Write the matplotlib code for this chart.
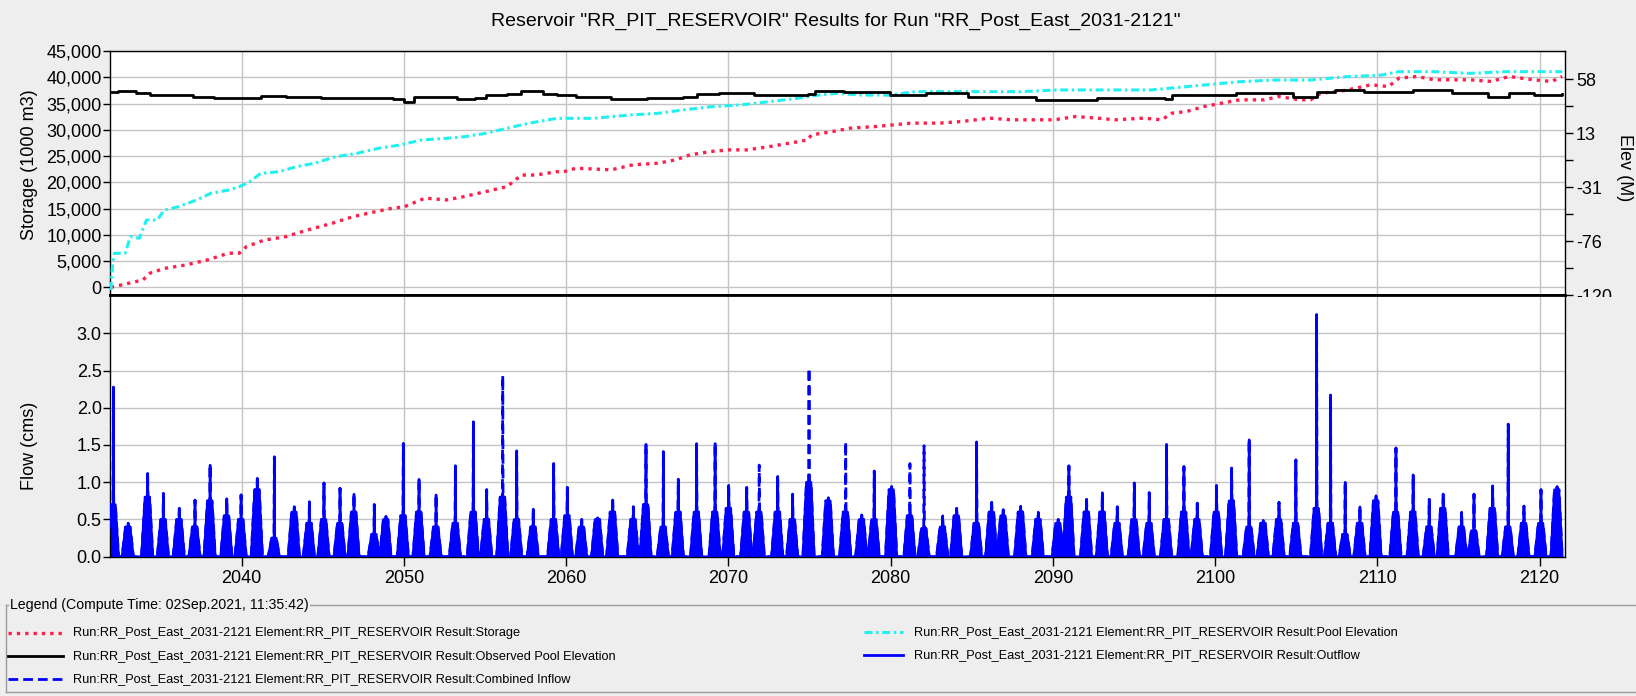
import numpy as np
import matplotlib
matplotlib.use("Agg")
import matplotlib.pyplot as plt
from matplotlib.lines import Line2D
from matplotlib.patches import Rectangle

plt.rcParams['font.family'] = ['Liberation Sans', 'DejaVu Sans']

W, H = 1636, 696
BG = '#eeeeee'

# ---- top panel: storage (1000 m3)
stor_t = [2031.93, 2032.37, 2033.91, 2034.35, 2035.23, 2036.55, 2037.87, 2039.19, 2039.85, 2040.29,
          2041.39, 2042.71, 2044.03, 2045.57, 2046.90, 2048.22, 2049.32, 2049.98, 2051.30, 2052.62,
          2053.72, 2055.04, 2056.36, 2057.24, 2058.12, 2059.44, 2059.71, 2060.59, 2062.79, 2064.11,
          2065.65, 2066.75, 2067.63, 2068.95, 2070.05, 2071.15, 2072.48, 2073.80, 2074.90, 2075.11,
          2076.44, 2077.54, 2079.08, 2080.18, 2081.28, 2083.04, 2084.36, 2086.12, 2087.44, 2088.98,
          2090.09, 2091.41, 2092.72, 2093.86, 2095.60, 2096.70, 2097.35, 2098.23, 2099.32, 2100.41,
          2101.51, 2103.04, 2103.91, 2105.22, 2105.88, 2106.53, 2107.63, 2108.72, 2109.60, 2110.69,
          2111.34, 2112.44, 2113.53, 2115.72, 2117.02, 2118.12, 2119.65, 2120.74, 2121.40]
stor_v = [0, 300, 1400, 2700, 3600, 4250, 5200, 6500, 6500, 7750,
          9000, 9650, 10900, 12200, 13500, 14400, 15100, 15300, 17000, 16650,
          17300, 18250, 19200, 21400, 21400, 22050, 21900, 22700, 22400, 23350,
          23650, 24300, 25250, 25900, 26200, 26200, 26800, 27500, 28100, 29050,
          29700, 30350, 30650, 30970, 31300, 31300, 31600, 32250, 31930, 31930,
          31930, 32560, 32250, 31930, 32250, 31930, 33200, 33500, 34470, 35100,
          35740, 35740, 36370, 35740, 35740, 37020, 37330, 37980, 38600, 38280,
          39880, 40190, 39560, 39560, 39240, 40190, 39560, 39240, 40190]

# pool elevation (M), right axis
pool_t = [2031.93, 2032.04, 2032.15, 2032.81, 2033.14, 2033.69, 2034.13, 2034.79, 2035.23, 2036.11,
          2037.21, 2038.09, 2039.19, 2039.85, 2040.51, 2041.17, 2042.27, 2043.37, 2044.47, 2045.79,
          2047.11, 2048.44, 2049.76, 2051.08, 2052.62, 2053.72, 2055.04, 2056.36, 2057.68, 2059.44,
          2061.69, 2063.89, 2065.65, 2067.19, 2068.95, 2070.71, 2072.48, 2074.23, 2075.56, 2076.66,
          2078.20, 2079.96, 2081.50, 2083.70, 2085.90, 2088.10, 2090.31, 2092.72, 2093.86, 2096.04,
          2098.23, 2099.32, 2101.51, 2103.69, 2105.88, 2108.07, 2110.25, 2111.34, 2113.53, 2115.72,
          2117.90, 2120.09, 2121.40]
pool_v = [-115.9, -93.8, -85.6, -85.6, -71.9, -73.2, -58.1, -58.1, -49.9, -47.1,
          -41.6, -36.1, -33.4, -30.6, -26.5, -19.6, -18.3, -14.1, -11.3, -5.9,
          -3.1, 1.1, 3.8, 7.9, 9.3, 10.6, 13.4, 17.6, 21.7, 25.8,
          25.8, 28.5, 29.9, 32.7, 35.4, 36.8, 39.5, 42.3, 45.0, 46.4,
          45.0, 45.0, 47.8, 47.8, 47.8, 47.8, 49.2, 49.2, 49.2, 49.2,
          51.9, 53.3, 56.0, 57.4, 57.4, 60.1, 61.5, 64.3, 64.3, 62.9,
          64.3, 64.3, 64.3]

# observed pool elevation (M), right axis
obs_t = [2031.93, 2032.37, 2033.47, 2034.35, 2035.67, 2036.99, 2038.31, 2040.07, 2041.17, 2042.71,
         2044.91, 2047.11, 2049.32, 2049.98, 2050.64, 2051.52, 2053.28, 2054.38, 2055.04, 2056.36,
         2057.24, 2058.56, 2059.44, 2060.59, 2062.79, 2064.99, 2067.19, 2068.07, 2069.39, 2071.60,
         2074.90, 2075.34, 2077.10, 2079.96, 2082.16, 2084.80, 2087.00, 2088.98, 2090.75, 2092.72,
         2093.86, 2096.92, 2097.35, 2100.41, 2101.29, 2104.79, 2106.31, 2107.41, 2109.16, 2112.21,
         2114.62, 2116.81, 2117.90, 2118.12, 2119.65, 2121.40]
obs_v = [47.8, 48.6, 46.4, 45.0, 45.0, 43.1, 42.3, 42.3, 44.5, 43.1,
         42.3, 42.8, 41.5, 39.5, 43.6, 43.6, 41.5, 42.3, 45.0, 45.6,
         48.6, 45.9, 45.0, 43.6, 41.7, 42.3, 43.6, 45.9, 46.4, 45.0,
         45.6, 48.6, 47.3, 45.0, 46.4, 43.1, 43.6, 40.9, 40.9, 42.3,
         42.3, 41.7, 45.0, 45.0, 46.9, 43.6, 47.8, 49.2, 47.8, 49.2,
         46.4, 43.6, 43.6, 46.9, 45.0, 45.6]

# ---- bottom panel: one flow season per year (time of peak, outflow peak, inflow peak, bulk level), cms
flow_t = [2032.09, 2033.00, 2034.20, 2035.17, 2036.15, 2037.12, 2038.05, 2039.08, 2039.96, 2040.96,
          2042.01, 2043.24, 2044.17, 2045.07, 2046.06, 2046.92, 2048.17, 2048.89, 2049.96, 2050.93,
          2051.98, 2053.17, 2054.28, 2055.10, 2056.09, 2056.95, 2057.97, 2059.23, 2060.07, 2060.96,
          2061.94, 2062.87, 2064.14, 2064.92, 2065.99, 2066.91, 2068.04, 2069.18, 2070.02, 2071.13,
          2071.90, 2073.04, 2073.96, 2074.97, 2076.16, 2077.23, 2078.22, 2078.99, 2080.06, 2081.19,
          2082.06, 2083.21, 2084.07, 2085.30, 2086.23, 2086.94, 2088.02, 2089.10, 2090.33, 2090.99,
          2092.08, 2093.05, 2093.97, 2095.02, 2095.94, 2097.01, 2098.08, 2098.90, 2100.09, 2101.02,
          2102.10, 2102.97, 2103.94, 2104.98, 2106.26, 2107.12, 2108.02, 2108.93, 2109.92, 2111.15,
          2112.21, 2113.20, 2114.06, 2115.20, 2115.96, 2117.11, 2118.07, 2119.04, 2120.09, 2121.08]
out_peak = [2.28, 0.45, 1.12, 0.85, 0.65, 0.76, 1.23, 0.78, 0.83, 1.05,
            1.34, 0.67, 0.74, 0.99, 0.92, 0.84, 0.70, 0.54, 1.52, 1.04,
            0.83, 1.22, 1.81, 0.90, 0.85, 1.42, 0.64, 1.25, 0.93, 0.50,
            0.52, 0.76, 0.67, 1.51, 1.41, 1.04, 1.52, 1.52, 0.96, 0.93,
            0.70, 1.08, 0.84, 1.10, 0.79, 0.69, 0.56, 1.15, 0.94, 0.60,
            0.40, 0.55, 0.65, 1.54, 0.73, 0.63, 0.68, 0.60, 0.50, 1.22,
            0.77, 0.86, 0.67, 0.99, 0.86, 1.51, 1.21, 0.72, 0.96, 1.19,
            1.57, 0.49, 0.73, 1.30, 3.25, 2.17, 1.00, 0.67, 0.82, 1.46,
            1.10, 0.77, 0.84, 0.60, 0.84, 0.95, 1.78, 0.68, 0.90, 0.94]
in_peak = [2.28, 0.45, 1.12, 0.85, 0.65, 0.76, 1.23, 0.78, 0.83, 1.05,
           1.34, 0.67, 0.74, 0.99, 0.92, 0.84, 0.70, 0.54, 1.52, 1.04,
           0.83, 1.22, 1.81, 0.90, 2.43, 1.42, 0.64, 1.25, 0.93, 0.50,
           0.52, 0.76, 0.67, 1.51, 1.41, 1.04, 1.52, 1.52, 0.96, 0.93,
           1.23, 1.08, 0.84, 2.53, 0.79, 1.54, 0.56, 1.15, 0.94, 1.25,
           1.49, 0.55, 0.65, 1.54, 0.73, 0.63, 0.68, 0.60, 0.50, 1.22,
           0.77, 0.86, 0.67, 0.99, 0.86, 1.51, 1.21, 0.72, 0.96, 1.19,
           1.57, 0.49, 0.73, 1.30, 3.25, 2.17, 1.00, 0.67, 0.82, 1.46,
           1.10, 0.77, 0.84, 0.60, 0.84, 0.95, 1.78, 0.68, 0.90, 0.94]
flow_body = [0.70, 0.40, 0.80, 0.50, 0.50, 0.40, 0.75, 0.55, 0.50, 0.90,
             0.25, 0.60, 0.45, 0.50, 0.45, 0.60, 0.30, 0.50, 0.55, 0.60,
             0.40, 0.45, 0.60, 0.50, 0.80, 0.50, 0.40, 0.50, 0.55, 0.40,
             0.50, 0.60, 0.50, 0.70, 0.40, 0.60, 0.60, 0.60, 0.65, 0.60,
             0.60, 0.60, 0.50, 1.00, 0.75, 0.60, 0.50, 0.50, 0.90, 0.55,
             0.38, 0.40, 0.55, 0.45, 0.60, 0.55, 0.60, 0.50, 0.45, 0.80,
             0.60, 0.60, 0.45, 0.50, 0.45, 0.50, 0.60, 0.50, 0.60, 0.75,
             0.40, 0.45, 0.50, 0.45, 0.65, 0.45, 0.30, 0.45, 0.75, 0.60,
             0.60, 0.40, 0.65, 0.40, 0.35, 0.65, 0.40, 0.45, 0.45, 0.90]

storage_ticks = [0, 5000, 10000, 15000, 20000, 25000, 30000, 35000, 40000, 45000]
elev_ticks = [-120, -75.5, -31, 13.5, 58]
elev_labels = ["-120", "-76", "-31", "13", "58"]
flow_ticks = [0.0, 0.5, 1.0, 1.5, 2.0, 2.5, 3.0]
year_ticks = [2040, 2050, 2060, 2070, 2080, 2090, 2100, 2110, 2120]

title = 'Reservoir "RR_PIT_RESERVOIR" Results for Run "RR_Post_East_2031-2121"'
run = "Run:RR_Post_East_2031-2121 Element:RR_PIT_RESERVOIR Result:"

RED = '#ff1f4b'
CYAN = '#22f0f0'
BLUE = '#0000ff'


def season_series(t, peak, body):
    # each season: rise to the bulk level, a single peak, hold, then fall off
    xs, ys = [], []
    for ti, p, b in zip(t, peak, body):
        xs += [ti - 0.38, ti - 0.16, ti - 0.02, ti, ti + 0.02, ti + 0.12, ti + 0.32]
        ys += [0, b, b, p, b, b, 0]
    return np.array(xs), np.array(ys)


fig = plt.figure(figsize=(W / 100, H / 100), dpi=100, facecolor=BG)
L, R = 110 / W, 1565 / W
ax1 = fig.add_axes([L, 1 - 295 / H, R - L, 244 / H])
ax2 = fig.add_axes([L, 1 - 557 / H, R - L, 262 / H], sharex=ax1)
ax1r = ax1.twinx()

# top panel
ax1.plot(stor_t, stor_v, color=RED, lw=2.4, ls=(0, (1.0, 1.5)), zorder=3)
ax1r.plot(pool_t, pool_v, color=CYAN, lw=2.2, ls=(0, (2.6, 1.2, 0.8, 1.2)), zorder=3)
ax1r.plot(obs_t, obs_v, color='black', lw=2.0, drawstyle='steps-post', zorder=4)

ax1.set_xlim(2031.88, 2121.57)
ax1.set_ylim(-1470, 45050)
ax1.set_yticks(storage_ticks)
ax1.set_yticklabels([f"{v:,}" for v in storage_ticks])
ax1r.set_ylim(-120, 81.35)
ax1r.set_yticks(elev_ticks)
ax1r.set_yticklabels(elev_labels)
ax1r.set_yticks([(a + b) / 2 for a, b in zip(elev_ticks[:-1], elev_ticks[1:])], minor=True)

# bottom panel
xo, yo = season_series(flow_t, out_peak, flow_body)
xi, yi = season_series(flow_t, in_peak, flow_body)
ax2.fill_between(xo, 0, yo, color=BLUE, lw=0, zorder=2)
ax2.plot(xi, yi, color=BLUE, lw=2.0, ls=(0, (3.5, 1.8)), zorder=3)
ax2.plot(xo, yo, color=BLUE, lw=1.8, zorder=3)
ax2.set_ylim(-0.004, 3.514)
ax2.set_yticks(flow_ticks)
ax2.set_yticklabels([f"{v:.1f}" for v in flow_ticks])
ax2.set_xticks(year_ticks)
ax2.set_xticklabels([str(y) for y in year_ticks])

for ax in (ax1, ax2):
    ax.set_facecolor('white')
    ax.grid(True, color='#c4c4c4', lw=1.0)
    ax.set_axisbelow(True)
    for s in ax.spines.values():
        s.set_color('black')
        s.set_linewidth(1.0)
ax1.spines['bottom'].set_linewidth(2.0)
ax2.spines['top'].set_linewidth(2.0)
for s in ax1r.spines.values():
    s.set_visible(False)

ax1.tick_params(axis='y', length=5, width=1, labelsize=13, pad=1)
ax1.tick_params(axis='x', length=0, labelbottom=False)
ax2.tick_params(axis='y', length=5, width=1, labelsize=13, pad=1)
ax2.tick_params(axis='x', length=6.5, width=1, labelsize=13, pad=3)
ax1r.tick_params(axis='y', which='both', length=6, width=1, labelsize=13, pad=2)

# axis labels and title
fig.text(30 / W, 1 - 165 / H, "Storage (1000 m3)", rotation=90, ha='center', va='center', fontsize=13)
fig.text(30 / W, 1 - 446 / H, "Flow (cms)", rotation=90, ha='center', va='center', fontsize=13)
fig.text(1624 / W, 1 - 168 / H, "Elev (M)", rotation=270, ha='center', va='center', fontsize=13)
fig.text(836 / W, 1 - 21 / H, title, ha='center', va='center', fontsize=14)

# the "-120" label is partly hidden below the top panel
fig.add_artist(Rectangle((1568 / W, 1 - 312 / H), 50 / W, 15 / H, transform=fig.transFigure,
                         facecolor=BG, edgecolor='none', zorder=10))

# legend box
def fline(x0, x1, y0, y1, **kw):
    fig.add_artist(Line2D([x0 / W, x1 / W], [1 - y0 / H, 1 - y1 / H], transform=fig.transFigure, **kw))

frame = dict(color='#9a9a9a', lw=1.0)
fline(6, 1640, 605, 605, **frame)
fline(6, 6, 605, 692, **frame)
fline(6, 1640, 692, 692, **frame)
fig.text(10 / W, 1 - 605 / H, "Legend (Compute Time: 02Sep.2021, 11:35:42)", ha='left', va='center',
         fontsize=10.2, bbox=dict(facecolor=BG, edgecolor='none', pad=1), zorder=5)

entries = [
    (8, 63, 73, 633, dict(color=RED, lw=2.4, ls=(0, (1.0, 1.5))), "Storage"),
    (8, 63, 73, 656, dict(color='black', lw=2.0), "Observed Pool Elevation"),
    (8, 63, 73, 679, dict(color=BLUE, lw=2.0, ls=(0, (3.5, 1.8))), "Combined Inflow"),
    (864, 903, 914, 632, dict(color=CYAN, lw=2.2, ls=(0, (2.6, 1.2, 0.8, 1.2))), "Pool Elevation"),
    (864, 903, 914, 655, dict(color=BLUE, lw=2.0), "Outflow"),
]
for x0, x1, xt, y, style, name in entries:
    fline(x0, x1, y, y, **style)
    fig.text(xt / W, 1 - y / H, run + name, ha='left', va='center', fontsize=9.2)

fig.savefig("out.png", dpi=100, facecolor=BG)
